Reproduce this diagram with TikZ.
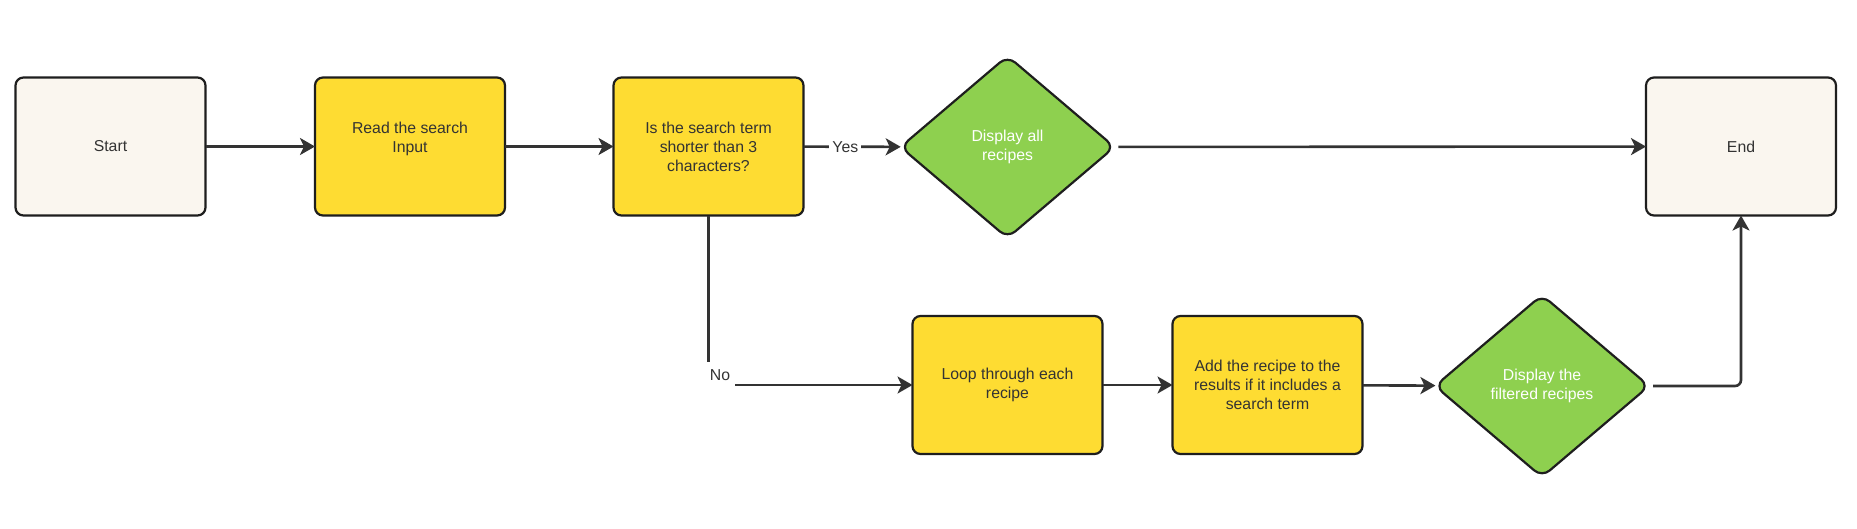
\documentclass[tikz,border=0pt]{standalone}
\usepackage{fontspec}
\setmainfont{Liberation Sans}
\usetikzlibrary{shapes.geometric,arrows.meta}
\definecolor{cream}{HTML}{FAF6EF}
\definecolor{yel}{HTML}{FEDC32}
\definecolor{grn}{HTML}{8ED04F}
\definecolor{edgec}{HTML}{333333}
\definecolor{bord}{HTML}{1E1E1E}
\begin{document}
\begin{tikzpicture}[x=1pt,y=-1pt,
  font=\fontsize{15.8}{19}\selectfont,
  box/.style={rectangle, rounded corners=8pt, draw=bord, line width=2.2pt,
    minimum width=190pt, minimum height=138pt, align=center, text=edgec,
    inner sep=0pt, outer sep=0pt},
  termbox/.style={box, fill=cream},
  procbox/.style={box, fill=yel},
  decbox/.style={diamond, aspect=1.17, rounded corners=10pt, draw=bord,
    line width=2.2pt, fill=grn, minimum width=214pt, minimum height=182pt,
    inner sep=0pt, outer sep=0pt, align=center, text=white},
  conn/.style={draw=edgec, line width=2.6pt,
    -{Stealth[length=15pt,width=17pt,inset=4pt]}},
  lbl/.style={fill=white, text=edgec, inner sep=3pt}
]
\useasboundingbox[fill=white] (0,0) rectangle (1857,528);

\node[termbox] (start) at (110.5,146.5) {Start};
\node[procbox] (read) at (410,146.5) {Read the search\\Input\\~};
\node[procbox] (is) at (708.5,146.5) {Is the search term\\shorter than 3\\characters?};
\node[decbox] (d1) at (1007.5,147) {Display all\\recipes};
\node[termbox] (end) at (1741,146.5) {End};
\node[procbox] (loop) at (1007.5,385) {Loop through each\\recipe};
\node[procbox] (add) at (1267.5,385) {Add the recipe to the\\results if it includes a\\search term};
\node[decbox] (d2) at (1542,386) {Display the\\filtered recipes};

\draw[conn] (start) -- (read);
\draw[conn] (read) -- (is);
\draw[conn] (is) -- node[lbl, pos=0.43] {Yes} (d1);
\draw[conn, shorten <=4pt] (d1) -- (end);
\draw[conn] (is.south) |- node[lbl, pos=0.5, inner sep=0pt, minimum width=30pt,
  minimum height=26pt, xshift=11.5pt, yshift=10pt] {No} (loop.west);
\draw[conn] (loop) -- (add);
\draw[conn] (add) -- (d2);
\draw[conn, rounded corners=6pt, shorten <=4pt] (d2.east) -| (end.south);
\end{tikzpicture}
\end{document}
